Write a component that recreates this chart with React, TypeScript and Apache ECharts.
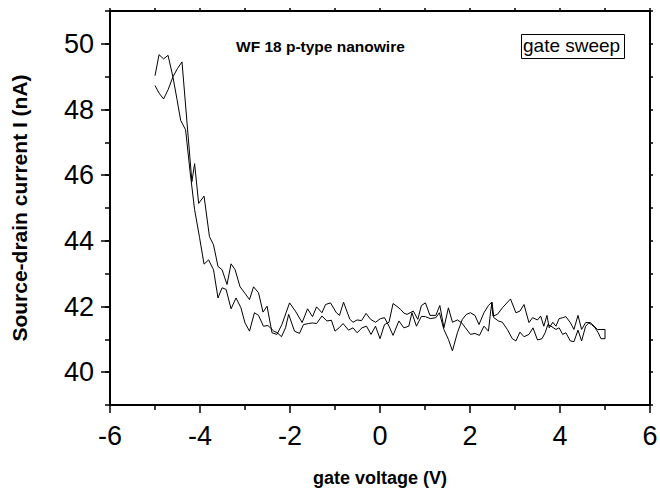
import React, { useEffect, useRef } from "react";
import * as echarts from "echarts";

// Forward sweep (-5 V -> +5 V): [gate voltage (V), current (nA)]
const forwardSweep: [number, number][] = [
  [-5.0, 49.03], [-4.91, 49.67], [-4.81, 49.54], [-4.71, 49.65], [-4.6, 48.98], [-4.51, 48.3],
  [-4.43, 47.67], [-4.32, 47.38], [-4.22, 46.1], [-4.12, 44.95], [-4.01, 44.1], [-3.91, 43.29],
  [-3.81, 43.42], [-3.7, 43.12], [-3.6, 42.26], [-3.51, 42.57], [-3.42, 42.52], [-3.31, 41.93],
  [-3.2, 42.26], [-3.09, 41.96], [-3.0, 41.5], [-2.9, 41.25], [-2.79, 41.81], [-2.7, 41.73],
  [-2.59, 41.4], [-2.49, 41.42], [-2.36, 41.25], [-2.28, 41.2], [-2.19, 41.08], [-2.1, 41.35],
  [-2.03, 41.76], [-1.9, 41.25], [-1.79, 41.18], [-1.7, 41.45], [-1.59, 41.48], [-1.5, 41.5],
  [-1.41, 41.48], [-1.29, 41.71], [-1.18, 41.56], [-1.08, 41.58], [-1.0, 41.25], [-0.91, 41.35],
  [-0.82, 41.48], [-0.7, 41.28], [-0.6, 41.35], [-0.51, 41.2], [-0.4, 41.35], [-0.3, 41.4],
  [-0.2, 41.15], [-0.1, 41.4], [0.0, 41.02], [0.1, 41.45], [0.2, 41.52], [0.29, 42.09],
  [0.38, 42.0], [0.46, 41.91], [0.53, 41.8], [0.6, 41.76], [0.74, 41.86], [0.84, 41.61],
  [0.92, 42.03], [1.01, 42.11], [1.11, 41.73], [1.24, 41.73], [1.33, 42.03], [1.42, 41.35],
  [1.52, 41.96], [1.61, 41.52], [1.72, 41.59], [1.81, 41.51], [1.9, 41.35], [2.01, 41.15],
  [2.11, 41.18], [2.21, 41.12], [2.31, 41.4], [2.41, 41.25], [2.46, 41.86], [2.49, 42.13],
  [2.53, 41.66], [2.63, 41.56], [2.72, 41.52], [2.83, 41.3], [2.94, 41.02], [3.02, 40.95],
  [3.11, 41.22], [3.2, 41.08], [3.31, 41.15], [3.4, 41.35], [3.5, 40.98], [3.6, 41.02],
  [3.67, 41.2], [3.73, 41.45], [3.8, 41.4], [3.91, 41.3], [3.98, 41.35], [4.06, 41.15],
  [4.13, 41.2], [4.23, 40.95], [4.31, 40.93], [4.4, 41.28], [4.48, 40.95], [4.57, 41.4],
  [4.64, 41.5], [4.7, 41.45], [4.78, 41.35], [4.85, 41.2], [4.91, 41.02], [5.0, 41.02],
];

// Reverse sweep, listed by ascending voltage (drawn from +5 V back to -5 V)
const reverseSweep: [number, number][] = [
  [-5.0, 48.73], [-4.91, 48.5], [-4.81, 48.32], [-4.71, 48.6], [-4.6, 49.0], [-4.5, 49.25],
  [-4.4, 49.45], [-4.18, 45.8], [-4.12, 46.35], [-4.03, 45.14], [-3.91, 45.36], [-3.79, 44.13],
  [-3.7, 43.88], [-3.6, 43.22], [-3.51, 43.12], [-3.4, 42.67], [-3.31, 43.3], [-3.22, 43.12],
  [-3.11, 42.6], [-3.0, 42.4], [-2.9, 42.21], [-2.81, 42.6], [-2.7, 42.42], [-2.6, 41.83],
  [-2.51, 42.01], [-2.4, 41.2], [-2.29, 41.15], [-2.18, 41.45], [-2.01, 42.11], [-1.88, 41.86],
  [-1.73, 41.51], [-1.61, 41.93], [-1.5, 41.69], [-1.41, 41.99], [-1.29, 41.81], [-1.21, 42.06],
  [-1.1, 42.11], [-0.97, 41.81], [-0.9, 41.73], [-0.81, 42.13], [-0.67, 41.61], [-0.6, 41.52],
  [-0.51, 41.59], [-0.41, 41.57], [-0.31, 41.79], [-0.21, 41.61], [-0.1, 41.52], [0.01, 41.63],
  [0.1, 41.66], [0.2, 41.4], [0.29, 41.12], [0.42, 41.56], [0.53, 41.35], [0.64, 41.4],
  [0.71, 41.81], [0.81, 41.4], [0.92, 41.7], [1.01, 41.69], [1.12, 41.63], [1.24, 41.66],
  [1.32, 41.81], [1.42, 41.3], [1.52, 41.0], [1.61, 40.65], [1.72, 41.2], [1.83, 41.61],
  [1.92, 41.76], [2.01, 41.81], [2.11, 41.73], [2.2, 41.45], [2.31, 41.81], [2.41, 42.03],
  [2.48, 42.13], [2.51, 41.71], [2.61, 41.76], [2.72, 41.96], [2.9, 42.23], [3.02, 41.81],
  [3.11, 41.86], [3.2, 42.06], [3.31, 41.51], [3.39, 41.66], [3.5, 41.59], [3.57, 41.71],
  [3.64, 41.4], [3.71, 41.73], [3.76, 41.35], [3.84, 41.52], [3.91, 41.4], [3.98, 41.63],
  [4.06, 41.66], [4.13, 41.69], [4.23, 41.51], [4.31, 41.3], [4.4, 41.73], [4.48, 41.3],
  [4.57, 41.51], [4.67, 41.51], [4.76, 41.4], [4.83, 41.3], [4.91, 41.3], [5.0, 41.3],
];

const yMajorTicks = [40, 42, 44, 46, 48, 50];
const yRange = [39, 51];
const xRange = [-6, 6];

const chartTitle = "WF 18 p-type nanowire";
const legendLabel = "gate sweep";
const xName = "gate voltage (V)";
const yName = "Source-drain current I (nA)";

const FONT = "'Liberation Sans', Arial, sans-serif";

export default function App() {
  const ref = useRef<HTMLDivElement>(null);

  useEffect(() => {
    if (!ref.current) return;
    const chart = echarts.init(ref.current, null, { renderer: "svg" });
    const loop = [...forwardSweep, ...reverseSweep.slice().reverse()];
    const axisLine = { show: true, onZero: false, lineStyle: { color: "#000", width: 2 } };
    const tickStyle = { color: "#000", width: 1.5 };

    chart.setOption({
      animation: false,
      backgroundColor: "#fff",
      textStyle: { fontFamily: FONT },
      grid: {
        left: 110,
        right: 10,
        top: 11,
        bottom: 83,
        containLabel: false,
        outerBoundsMode: "none",
      },
      xAxis: [
        {
          type: "value",
          position: "bottom",
          min: xRange[0],
          max: xRange[1],
          interval: 2,
          axisLine,
          axisTick: { show: true, length: 8, lineStyle: tickStyle },
          minorTick: { show: true, splitNumber: 2, length: 5, lineStyle: tickStyle },
          axisLabel: { fontSize: 27, color: "#000", margin: 17, fontFamily: FONT },
          splitLine: { show: false },
          minorSplitLine: { show: false },
          name: xName,
          nameLocation: "middle",
          nameGap: 64,
          nameTextStyle: { fontSize: 18, fontWeight: "bold", color: "#000", fontFamily: FONT },
        },
        {
          type: "value",
          position: "top",
          min: xRange[0],
          max: xRange[1],
          interval: 1,
          axisLine,
          axisTick: { show: true, length: 3, lineStyle: tickStyle },
          axisLabel: { show: false },
          splitLine: { show: false },
        },
      ],
      yAxis: [
        {
          type: "value",
          position: "left",
          min: yRange[0],
          max: yRange[1],
          interval: 1,
          axisLine,
          axisTick: { show: true, length: 5, lineStyle: tickStyle },
          axisLabel: {
            fontSize: 27,
            color: "#000",
            margin: 16,
            fontFamily: FONT,
            formatter: (v: number) => (v % 2 === 0 ? String(v) : ""),
          },
          splitLine: { show: false },
          name: yName,
          nameLocation: "middle",
          nameGap: 80,
          nameTextStyle: { fontSize: 21, fontWeight: "bold", color: "#000", fontFamily: FONT },
        },
        {
          type: "value",
          position: "left",
          min: yRange[0],
          max: yRange[1],
          interval: 1,
          axisLine: { show: false, onZero: false },
          axisTick: { show: true, length: 9, lineStyle: tickStyle, customValues: yMajorTicks },
          axisLabel: { show: false },
          splitLine: { show: false },
        },
        {
          type: "value",
          position: "right",
          min: yRange[0],
          max: yRange[1],
          interval: 1,
          axisLine,
          axisTick: { show: true, length: 3, lineStyle: tickStyle },
          axisLabel: { show: false },
          splitLine: { show: false },
        },
      ],
      graphic: [
        {
          type: "text",
          left: 236,
          top: 38,
          style: { text: chartTitle, fontSize: 15.5, fontWeight: "bold", fill: "#000", fontFamily: FONT },
        },
        {
          type: "rect",
          left: 521,
          top: 34,
          shape: { width: 103, height: 24 },
          style: { fill: "#fff", stroke: "#000", lineWidth: 1 },
        },
        {
          type: "text",
          left: 523,
          top: 36,
          style: { text: legendLabel, fontSize: 19, fill: "#000", fontFamily: FONT },
        },
      ],
      series: [
        {
          type: "line",
          xAxisIndex: 0,
          yAxisIndex: 0,
          data: loop,
          showSymbol: false,
          symbol: "none",
          lineStyle: { color: "#000", width: 1 },
          silent: true,
        },
      ],
    });
    return () => chart.dispose();
  }, []);

  return (
    <div
      ref={ref}
      style={{ position: "absolute", left: 0, top: 0, width: 660, height: 488, background: "#fff" }}
    />
  );
}
